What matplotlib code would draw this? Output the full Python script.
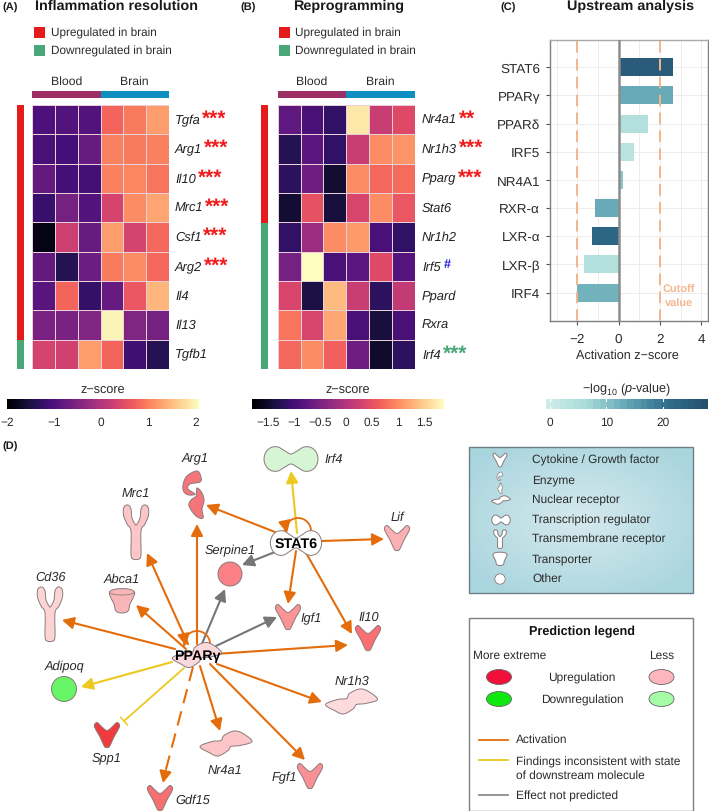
import numpy as np
import matplotlib
matplotlib.use('Agg')
import matplotlib.pyplot as plt
from matplotlib.cm import ScalarMappable
from matplotlib.colors import Normalize, LinearSegmentedColormap, BoundaryNorm
from matplotlib.patches import Polygon, Rectangle, Circle, Ellipse, Arc, FancyArrowPatch

plt.rcParams['font.family'] = ['Liberation Sans', 'DejaVu Sans']
plt.rcParams['mathtext.fontset'] = 'custom'
plt.rcParams['mathtext.rm'] = 'Liberation Sans'
plt.rcParams['mathtext.it'] = 'Liberation Sans:italic'
plt.rcParams['text.hinting'] = 'no_hinting'

W, H = 709, 812
TXT = '#2b2b2b'

# ---------- data ----------
genes_a = ['Tgfa', 'Arg1', 'Il10', 'Mrc1', 'Csf1', 'Arg2', 'Il4', 'Il13', 'Tgfb1']
heat_a = [[-1.00, -0.95, -0.95, 0.75, 0.95, 1.25],
          [-1.05, -1.10, -0.75, 1.00, 0.95, 1.00],
          [-0.80, -1.10, -1.10, 1.00, 1.05, 0.90],
          [-1.20, -0.60, -0.95, 0.35, 1.10, 1.30],
          [-1.85, 0.25, -0.75, 1.25, 0.35, 0.80],
          [-0.80, -1.40, -0.70, 0.95, 1.10, 0.80],
          [-0.90, 0.75, -1.25, -0.75, 0.60, 1.45],
          [-0.55, -0.55, -0.50, 2.00, -0.50, -0.60],
          [0.35, 0.30, 1.25, 0.75, -1.15, -1.40]]
genes_b = ['Nr4a1', 'Nr1h3', 'Pparg', 'Stat6', 'Nr1h2', 'Irf5', 'Ppard', 'Rxra', 'Irf4']
heat_b = [[-0.75, -0.95, -1.15, 1.70, 0.20, 0.40],
          [-1.25, -0.80, -1.15, 0.20, 1.00, 1.05],
          [-1.20, -0.60, -1.45, 1.00, 0.70, 0.75],
          [-1.45, 0.50, -1.40, 0.35, 1.00, 0.55],
          [-1.15, -0.20, 1.00, 1.10, -0.95, -1.15],
          [-0.55, 1.88, -0.95, -0.80, 0.40, -0.85],
          [0.35, -1.35, 1.35, 0.20, -1.20, 0.15],
          [0.80, 0.35, 1.20, -0.95, -1.40, -0.95],
          [0.70, 1.00, 0.65, -0.60, -1.50, -1.20]]
regulators = ['STAT6', 'PPARγ', 'PPARδ', 'IRF5', 'NR4A1', 'RXR-α', 'LXR-α', 'LXR-β', 'IRF4']
zscores = [2.65, 2.62, 1.42, 0.72, 0.20, -1.12, -1.27, -1.65, -2.02]
neglogp = [25.5, 13, 4, 2.5, 9, 13, 23, 4, 12]

# ---------- helpers ----------
def axpx(x0, y0, x1, y1, **kw):
    return fig.add_axes([x0 / W, 1 - y1 / H, (x1 - x0) / W, (y1 - y0) / H], **kw)

def smooth(pts, n=10):
    p = np.asarray(pts, float)
    out = []
    m = len(p)
    for i in range(m):
        p0, p1, p2, p3 = p[i - 1], p[i], p[(i + 1) % m], p[(i + 2) % m]
        for t in np.linspace(0, 1, n, endpoint=False):
            out.append(0.5 * (2 * p1 + (p2 - p0) * t + (2 * p0 - 5 * p1 + 4 * p2 - p3) * t ** 2
                              + (3 * p1 - p0 - 3 * p2 + p3) * t ** 3))
    return np.array(out)

CYTOKINE = [(-12.5, -8.5), (-10, -12.5), (-5, -8), (0, -4.5), (5, -8), (10, -12.5), (12.5, -8.5), (7, 2), (2.5, 11.5), (0, 12.5), (-2.5, 11.5), (-7, 2)]
RECEPTOR = [(-12, -25), (-8, -27), (-5, -23), (-4, -14), (-1, -8), (0, -7), (1, -8), (4, -14), (5, -23), (8, -27), (12, -25), (12.5, -17), (9, -8), (5, -1), (5, 22), (3, 27), (-3, 27), (-5, 22), (-5, -1), (-9, -8), (-12.5, -17)]
NUCLEAR = [(-26, 3), (-14, -2), (-5, -3), (-2, -8), (8, -12.5), (17, -10), (26, -2), (14, 2), (5, 3), (2, 7), (-8, 12.5), (-17, 9)]
PEANUT = [(-27, 0), (-25, -7), (-20, -11.5), (-13, -12), (-6, -8), (0, -5), (6, -8), (13, -12), (20, -11.5), (25, -7), (27, 0), (25, 7), (20, 11.5), (13, 12), (6, 8), (0, 5), (-6, 8), (-13, 12), (-20, 11.5), (-25, 7)]
CUP = [(-12.5, -9), (-6, -12), (6, -12), (12.5, -9), (11, -3), (8, 3), (6, 10), (0, 12), (-6, 10), (-8, 3), (-11, -3)]
ENZ1 = [(4, -23), (8, -17), (7, -12), (-3, -10), (-5, -5), (2, 0), (-4, 1), (-9, -2), (-10, -9), (-6, -18)]
ENZ2 = [(4, -6), (9, -1), (11, 7), (9, 15), (10, 24), (3, 22), (-4, 12), (-2, 6), (3, 2)]
EDGE = '#8a7a7a'

def shape(pts, cx, cy, fc, sx=1.0, sy=None, ec=EDGE, lw=0.7, z=5):
    sy = sx if sy is None else sy
    xy = smooth(pts) * [sx, sy] + [cx, cy]
    ov.add_patch(Polygon(xy, closed=True, fc=fc, ec=ec, lw=lw, zorder=z))

def arrow(p, q, color, lw=1.5, z=3):
    ov.add_patch(FancyArrowPatch(p, q, arrowstyle='-|>,head_length=0.7,head_width=0.36',
                                 mutation_scale=10, color=color, lw=lw, shrinkA=0, shrinkB=0, zorder=z))

# overlay in pixel coordinates
fig = plt.figure(figsize=(W / 100, H / 100), dpi=100, facecolor='white')
ov = fig.add_axes([0, 0, 1, 1], zorder=5)
ov.patch.set_alpha(0)
ov.axis('off')

def label(x, y, s, size=8.5, ha='left', va='center', **kw):
    kw.setdefault('color', TXT)
    return ov.text(x, y, s, fontsize=size, ha=ha, va=va, **kw)

# ---------- heatmap panels ----------
RED, GREEN = '#e41a1c', '#4aa777'
BLOOD, BRAIN = '#9e2f66', '#0f8fc0'

def heat_panel(x0, x1, values, genes, vmin, vmax, side_x, split_y, gene_x, leg_x, leg_tx):
    ax = axpx(x0, 106, x1, 370)
    arr = np.array(values)
    ax.pcolormesh(arr, cmap='magma', vmin=vmin, vmax=vmax, edgecolors='#e9cfd8', linewidth=0.6)
    ax.set_ylim(len(genes), 0)
    ax.axis('off')
    for i, g in enumerate(genes):
        label(gene_x, 106 + (i + 0.5) * 264 / len(genes), g, size=9.3, style='italic', color='#222222')
    ov.add_patch(Rectangle((side_x[0], 106), side_x[1] - side_x[0], split_y - 106, fc=RED, lw=0))
    ov.add_patch(Rectangle((side_x[0], split_y), side_x[1] - side_x[0], 370 - split_y, fc=GREEN, lw=0))
    xm = (x0 + x1) / 2
    ov.add_patch(Rectangle((x0, 92), xm - x0, 6.5, fc=BLOOD, lw=0))
    ov.add_patch(Rectangle((xm, 92), x1 - xm, 6.5, fc=BRAIN, lw=0))
    label((x0 + xm) / 2, 82, 'Blood', size=8.8, ha='center')
    label((x1 + xm) / 2, 82, 'Brain', size=8.8, ha='center')
    ov.add_patch(Rectangle((leg_x, 28), 10.5, 11, fc=RED, lw=0))
    ov.add_patch(Rectangle((leg_x, 46), 10.5, 10.5, fc=GREEN, lw=0))
    label(leg_tx, 33, 'Upregulated in brain', size=8.5)
    label(leg_tx, 51, 'Downregulated in brain', size=8.5)

heat_panel(32, 169, heat_a, genes_a, -2, 2.08, (17, 24), 341, 175, 34, 51)
heat_panel(277.7, 414.7, heat_b, genes_b, -1.81, 1.88, (261, 267.5), 223.5, 422, 279, 295)

STAR_RED = '#f01c1c'
stars_a = {'Tgfa': 202, 'Arg1': 204, 'Il10': 198, 'Mrc1': 205, 'Csf1': 203, 'Arg2': 204}
for i, g in enumerate(genes_a):
    if g in stars_a:
        label(stars_a[g], 106 + (i + 0.5) * 264 / 9 - 1.5, '***', size=15, color=STAR_RED, fontweight='bold')
label(459, 106 + 0.5 * 264 / 9 - 1.5, '**', size=15, color=STAR_RED, fontweight='bold')
label(459, 106 + 1.5 * 264 / 9 - 1.5, '***', size=15, color=STAR_RED, fontweight='bold')
label(458, 106 + 2.5 * 264 / 9 - 1.5, '***', size=15, color=STAR_RED, fontweight='bold')
label(443, 106 + 8.5 * 264 / 9 - 1.5, '***', size=15, color='#4aa777', fontweight='bold')
label(444, 265, '#', size=9, color='#1a1ae0', fontweight='bold')

# titles and panel tags
for x, s in [(35, 'Inflammation resolution'), (293, 'Reprogramming'), (567, 'Upstream analysis')]:
    label(x, 6, s, size=10.4, fontweight='bold', color='#1a1a1a')
for x, y, s in [(2, 8, '(A)'), (240, 8, '(B)'), (500, 8, '(C)'), (2, 447, '(D)')]:
    label(x, y, s, size=8, fontweight='bold', color='#1a1a1a')

# ---------- colour bars ----------
def cbar(x0, x1, cmap, norm, ticks, ticklabels, title, inner_ticks=False):
    cax = axpx(x0, 400, x1, 409.5)
    cb = fig.colorbar(ScalarMappable(norm=norm, cmap=cmap), cax=cax, orientation='horizontal', drawedges=False)
    cb.outline.set_visible(False)
    cb.set_ticks(ticks)
    cb.set_ticklabels(ticklabels)
    cb.minorticks_off()
    cax.tick_params(length=0, labelsize=8.6, labelcolor=TXT, pad=5.5)
    if inner_ticks:
        for t in ticks:
            cax.axvline(t, color='white', lw=0.8, ymin=0, ymax=0.18)
            cax.axvline(t, color='white', lw=0.8, ymin=0.82, ymax=1)
    label((x0 + x1) / 2, 390, title, size=9.1, ha='center')

cbar(7, 199, 'magma', Normalize(-2, 2.08), [-2, -1, 0, 1, 2], ['−2', '−1', '0', '1', '2'], 'z−score')
cbar(252, 444, 'magma', Normalize(-1.81, 1.88), [-1.5, -1, -0.5, 0, 0.5, 1, 1.5],
     ['−1.5', '−1', '−0.5', '0', '0.5', '1', '1.5'], 'z−score')

teal = LinearSegmentedColormap.from_list('teal', ['#cdece8', '#a4d9d7', '#63a6b5', '#2f6f8e', '#27506f'])
p_norm = BoundaryNorm(np.linspace(-0.7, 28, 25), 256)
cbar(546, 708, teal, p_norm, [0, 10, 20], ['0', '10', '20'], '', inner_ticks=True)
label(627, 390, r'−log$_{10}$ ($\mathit{p}$-value)', size=9.1, ha='center')

# ---------- bar chart ----------
bx = axpx(549.7, 40.7, 708, 321.7)
bx.set_facecolor('white')
ypos = np.arange(len(regulators))
bx.barh(ypos, zscores, height=0.64, color=teal(Normalize(-0.7, 28)(neglogp)), zorder=3)
bx.set_xlim(-3.33, 4.32)
bx.set_ylim(len(regulators) - 1 + 1.0, -0.98)
bx.set_yticks(ypos, regulators)
bx.set_xticks([-2, 0, 2, 4], ['−2', '0', '2', '4'])
bx.set_xticks([-3, -1, 1, 3], minor=True)
bx.grid(True, which='both', color='#ececec', lw=0.7, zorder=0)
bx.set_axisbelow(True)
bx.axvline(0, color='#8c8c8c', lw=1.8, zorder=4)
for v in (-2, 2):
    bx.axvline(v, color='#f3b48c', lw=1.4, ls=(0, (6, 3.2)), zorder=5)
for s in bx.spines.values():
    s.set_color('#7f7f7f')
    s.set_linewidth(1.0)
bx.spines['top'].set_color('#a8a8a8')
bx.tick_params(axis='both', which='major', length=3, color='#555555', labelsize=9.7, labelcolor=TXT)
bx.tick_params(axis='x', which='minor', length=0)
bx.tick_params(axis='x', pad=5.5)
bx.tick_params(axis='y', pad=4)
bx.set_xlabel('Activation z−score', fontsize=9.1, color=TXT)
bx.xaxis.set_label_coords(0.49, -0.1)
label(679, 290, 'Cutoff', size=7.9, ha='center', color='#f4b78f', fontweight='bold')
label(679, 304, 'value', size=7.9, ha='center', color='#f4b78f', fontweight='bold')

# ---------- network ----------
ORG, YEL, GRY = '#e46c0a', '#edc81f', '#767676'
edges = [((175, 650), (62, 621), ORG), ((188, 645), (147, 554), ORG), ((186, 650), (136, 606), ORG),
         ((197, 645), (197, 525), ORG), ((201, 647), (225, 590), GRY), ((216, 647), (277, 618), GRY),
         ((215, 655), (348, 646), ORG), ((217, 665), (322, 703), ORG), ((210, 665), (305, 761), ORG),
         ((200, 667), (220, 732), ORG), ((172, 663), (81, 688), YEL),
         ((275, 533), (206, 506), ORG), ((297, 534), (291, 472), YEL), ((322, 542), (384, 540), ORG),
         ((275, 553), (242, 566), GRY), ((296, 552), (288, 605), ORG), ((305, 552), (352, 635), ORG)]
for p, q, c in edges:
    arrow(p, q, c)

# dashed activation to Gdf15
ov.plot([193, 165], [668, 774], color=ORG, lw=1.5, ls=(0, (7, 4)), zorder=3)
arrow((165.5, 772), (163, 784), ORG)
# inhibition bar to Spp1
ov.plot([184, 124], [669, 722], color=YEL, lw=1.3, zorder=3)
ov.plot([120.5, 127.5], [718, 726], color=YEL, lw=1.0, zorder=3)

# auto-regulation loops
ov.add_patch(Arc((298, 532), 26, 26, theta1=170, theta2=370, color=ORG, lw=1.3, zorder=3))
arrow((285.5, 527), (287, 534), ORG)
ov.add_patch(Arc((197, 645), 26, 26, theta1=170, theta2=370, color=ORG, lw=1.3, zorder=3))
arrow((184.5, 640), (186, 647), ORG)

# nodes
shape(ENZ1, 193, 495, '#f4767a')
shape(ENZ2, 193, 495, '#f4767a')
shape(RECEPTOR, 136, 533, '#fcc6c8')
shape(RECEPTOR, 50, 615, '#fcd4d5')
shape(CUP, 122, 602, '#f9b6b8')
ov.add_patch(Arc((122, 593), 25, 6, theta1=0, theta2=180, color=EDGE, lw=0.6, zorder=6))
shape(CYTOKINE, 107, 736, '#f03a3e')
shape(CYTOKINE, 160, 799, '#f66f73')
shape(CYTOKINE, 310, 777, '#f99095')
shape(CYTOKINE, 368, 639, '#f96f73')
shape(CYTOKINE, 288, 618, '#fb9398')
shape(CYTOKINE, 397, 539, '#fbb0b4')
shape(NUCLEAR, 226, 744.5, '#fcc5c7')
shape(NUCLEAR, 351.5, 702.5, '#fddbdc')
shape(PEANUT, 291, 460, '#d5f5d5')
ov.add_patch(Circle((64, 690), 12.5, fc='#66f566', ec=EDGE, lw=0.7, zorder=5))
ov.add_patch(Circle((230, 575), 12, fc='#fb8187', ec=EDGE, lw=0.7, zorder=5))
shape(PEANUT, 296, 544, 'white', sx=0.95, sy=1.0)
shape(NUCLEAR, 197, 656, '#fbd9da', sx=0.95, sy=1.0)
label(296, 544.5, 'STAT6', size=10.3, ha='center', fontweight='bold', color='black', zorder=7)
label(197, 656.5, 'PPARγ', size=10.3, ha='center', fontweight='bold', color='black', zorder=7)

node_labels = [(195, 459, 'Arg1'), (136, 495, 'Mrc1'), (122, 580, 'Abca1'), (51, 578, 'Cd36'),
               (64, 667, 'Adipoq'), (107, 758, 'Spp1'), (193, 801, 'Gdf15'), (225, 772, 'Nr4a1'),
               (284, 778, 'Fgf1'), (352, 682, 'Nr1h3'), (369, 618, 'Il10'), (311, 619, 'Igf1'),
               (397, 518, 'Lif'), (334, 460, 'Irf4'), (230, 551, 'Serpine1')]
for x, y, s in node_labels:
    label(x, y, s, size=9.2, ha='center', style='italic')

# ---------- node type legend ----------
xx, yy = np.meshgrid(np.linspace(-1, 1, 224), np.linspace(-1, 1, 146))
rad = np.clip(np.sqrt(xx ** 2 + yy ** 2) / 1.25, 0, 1)
grad = LinearSegmentedColormap.from_list('bg', ['#d6eaee', '#a9d5de'])
ov.imshow(rad, cmap=grad, extent=(469, 693, 594, 448), aspect='auto', zorder=1, vmin=0, vmax=1)
ov.set_xlim(0, W)
ov.set_ylim(H, 0)
ov.add_patch(Rectangle((469, 448), 224, 146, fc='none', ec='#6f7f86', lw=1.0, zorder=2))
types = ['Cytokine / Growth factor', 'Enzyme', 'Nuclear receptor', 'Transcription regulator',
         'Transmembrane receptor', 'Transporter', 'Other']
type_y = [460.5, 480.5, 500, 520, 539.5, 559, 579]
for t, y in zip(types, type_y):
    label(532, y, t, size=8.6)
shape(CYTOKINE, 500, 461, 'white', sx=0.55)
shape(ENZ1, 500, 481, 'white', sx=0.3, sy=0.35, lw=0.5)
shape(ENZ2, 499, 486, 'white', sx=0.3, sy=0.35, lw=0.5)
shape(NUCLEAR, 501, 501, 'white', sx=0.36, sy=0.34)
shape(PEANUT, 501, 521, 'white', sx=0.34, sy=0.4)
shape(RECEPTOR, 500, 540, 'white', sx=0.5, sy=0.34)
shape(CUP, 500, 560, 'white', sx=0.55, sy=0.55)
ov.add_patch(Circle((500, 580), 5.2, fc='white', ec=EDGE, lw=0.6, zorder=5))

# ---------- prediction legend ----------
ov.add_patch(Rectangle((469, 619), 224, 192.5, fc='white', ec='#7f7f7f', lw=1.0, zorder=2))
label(582, 632, 'Prediction legend', size=9.1, ha='center', fontweight='bold', color='#111111')
label(473, 656, 'More extreme', size=8.6)
label(662, 656, 'Less', size=8.6, ha='center')
pred = [('Upregulation', 678, '#f0103a', '#fdb6bd'), ('Downregulation', 700, '#0ee80e', '#a6fba6')]
for s, y, c1, c2 in pred:
    label(582, y, s, size=8.6, ha='center')
    ov.add_patch(Ellipse((499, y), 25, 15, fc=c1, ec='#666666', lw=0.6, zorder=5))
    ov.add_patch(Ellipse((661.5, y), 25, 15, fc=c2, ec='#666666', lw=0.6, zorder=5))
for y, c in [(741, ORG), (761, YEL), (796, '#8c8c8c')]:
    ov.plot([479, 508], [y, y], color=c, lw=1.3, zorder=5)
label(516, 740, 'Activation', size=8.6)
label(516, 762, 'Findings inconsistent with state', size=8.6)
label(516, 776, 'of downstream molecule', size=8.6)
label(516, 796, 'Effect not predicted', size=8.6)

fig.savefig('out.png', dpi=100)
